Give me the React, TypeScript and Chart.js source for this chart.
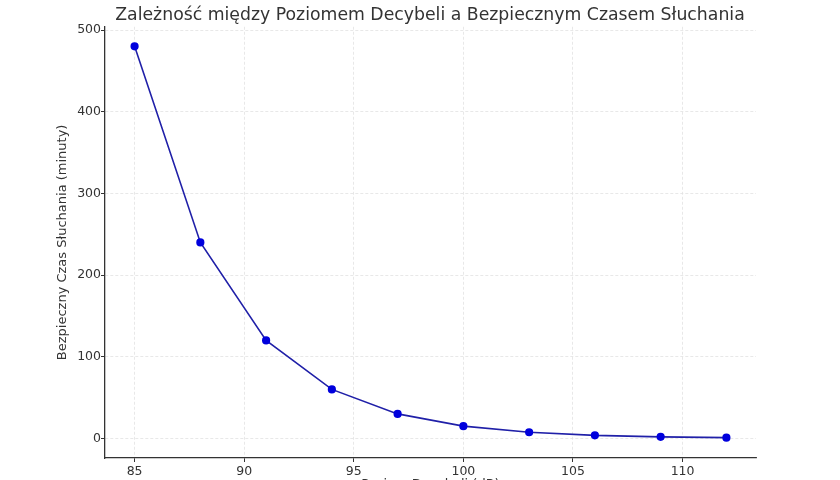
import { useEffect, useRef } from "react"
import { Chart, registerables } from "chart.js"

Chart.register(...registerables)

// Data
const decibels = [85, 88, 91, 94, 97, 100, 103, 106, 109, 112]
const safeMinutes = [480, 240, 120, 60, 30, 15, 7.5, 3.75, 1.875, 0.9375]
const xTickValues = [85, 90, 95, 100, 105, 110]
const yTickValues = [0, 100, 200, 300, 400, 500]

const FONT = "'DejaVu Sans', 'Noto Sans', sans-serif"

export default function App() {
  const chartRef = useRef<HTMLCanvasElement>(null)
  const chartInstance = useRef<Chart | null>(null)

  useEffect(() => {
    if (!chartRef.current) return
    if (chartInstance.current) chartInstance.current.destroy()
    const ctx = chartRef.current.getContext("2d")
    if (!ctx) return

    const gridOpts = {
      color: "#e2e2e2",
      lineWidth: 0.8,
      tickColor: "#333333",
      tickLength: 4,
      tickBorderDash: [],
      tickWidth: 1,
    }

    chartInstance.current = new Chart(ctx, {
      type: "scatter",
      data: {
        datasets: [
          {
            label: "Bezpieczny czas",
            data: decibels.map((d, i) => ({ x: d, y: safeMinutes[i] })),
            showLine: true,
            borderColor: "#2020a8",
            borderWidth: 1.6,
            pointBackgroundColor: "#0000dd",
            pointBorderColor: "#0000dd",
            pointRadius: 3.3,
            tension: 0,
          },
        ],
      },
      options: {
        animation: false,
        responsive: true,
        maintainAspectRatio: false,
        layout: { padding: { top: 0, right: 0, bottom: 0, left: 20 } },
        plugins: {
          legend: { display: false },
          tooltip: { enabled: false },
          title: {
            display: true,
            text: "Zależność między Poziomem Decybeli a Bezpiecznym Czasem Słuchania",
            color: "#333333",
            font: { family: FONT, size: 17.3, weight: "normal" },
            padding: { top: 5, bottom: 1 },
          },
        },
        scales: {
          x: {
            type: "linear",
            min: 83.65,
            max: 113.35,
            afterBuildTicks: (scale) => {
              scale.ticks = xTickValues.map((v) => ({ value: v }))
            },
            afterFit: (scale) => {
              scale.height = 42
            },
            grid: gridOpts,
            border: { display: true, color: "#333333", width: 1.3, dash: [3, 2] },
            ticks: {
              color: "#333333",
              font: { family: FONT, size: 12.5 },
              padding: 2,
              maxRotation: 0,
            },
            title: {
              display: true,
              text: "Poziom Decybeli (dB)",
              color: "#333333",
              font: { family: FONT, size: 13 },
              padding: { top: 0, bottom: 8 },
            },
          },
          y: {
            type: "linear",
            min: -24,
            max: 504,
            afterBuildTicks: (scale) => {
              scale.ticks = yTickValues.map((v) => ({ value: v }))
            },
            afterFit: (scale) => {
              scale.width = 85
            },
            grid: gridOpts,
            border: { display: true, color: "#333333", width: 1.3, dash: [3, 2] },
            ticks: {
              color: "#333333",
              font: { family: FONT, size: 12.5 },
              padding: 0,
            },
            title: {
              display: true,
              text: "Bezpieczny Czas Słuchania (minuty)",
              color: "#333333",
              font: { family: FONT, size: 13 },
              padding: { top: 35, bottom: 0 },
            },
          },
          // empty right-hand axis that only reserves the right margin
          yRight: {
            type: "linear",
            position: "right",
            display: true,
            afterFit: (scale) => {
              scale.width = 84
            },
            grid: { display: false, drawTicks: false },
            border: { display: false },
            ticks: { display: false },
          },
        },
      },
    })

    return () => {
      if (chartInstance.current) {
        chartInstance.current.destroy()
        chartInstance.current = null
      }
    }
  }, [])

  return (
    <div style={{ position: "absolute", left: 0, top: 0, width: 840, height: 500, background: "#ffffff" }}>
      <canvas ref={chartRef}></canvas>
    </div>
  )
}
